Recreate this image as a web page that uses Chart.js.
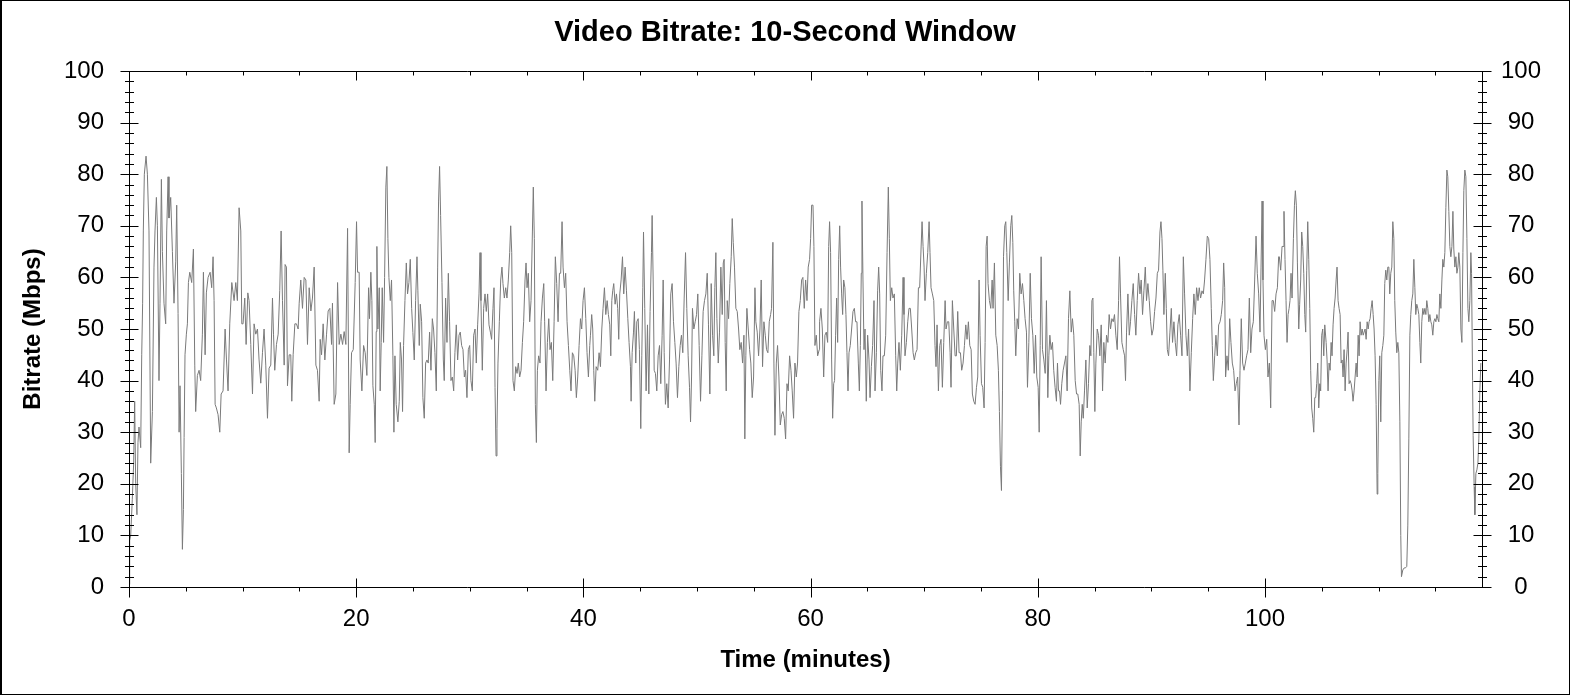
<!DOCTYPE html>
<html>
<head>
<meta charset="utf-8">
<title>Video Bitrate: 10-Second Window</title>
<style>
html, body { margin: 0; padding: 0; background: #fff; }
#wrap { width: 1570px; height: 695px; position: relative; }
</style>
<script src="https://cdn.jsdelivr.net/npm/chart.js@4.4.1/dist/chart.umd.min.js"></script>
</head>
<body>
<div id="wrap"><canvas id="bitrateChart" width="1570" height="695"></canvas></div>
<script>
// sample times (minutes)
const minutes = [
    0, 0.06, 0.15, 0.29, 0.41, 0.50, 0.59, 0.70, 0.79, 0.88,
    1.03, 1.12, 1.20, 1.26, 1.35, 1.50, 1.62, 1.76, 1.91, 2.06,
    2.20, 2.29, 2.41, 2.50, 2.64, 2.73, 2.85, 2.94, 3.08, 3.23,
    3.32, 3.44, 3.52, 3.67, 3.82, 3.96, 4.11, 4.20, 4.32, 4.41,
    4.49, 4.61, 4.70, 4.79, 4.85, 4.93, 5.05, 5.14, 5.23, 5.35,
    5.52, 5.67, 5.79, 5.87, 6.02, 6.17, 6.31, 6.46, 6.55, 6.70,
    6.81, 6.96, 7.14, 7.28, 7.40, 7.49, 7.58, 7.69, 7.84, 7.99,
    8.11, 8.28, 8.46, 8.58, 8.72, 8.87, 9.05, 9.25, 9.40, 9.54,
    9.69, 9.84, 9.93, 10.04, 10.19, 10.31, 10.46, 10.57, 10.72, 10.87,
    11.01, 11.16, 11.31, 11.45, 11.60, 11.75, 11.89, 12.04, 12.19, 12.33,
    12.48, 12.63, 12.72, 12.83, 12.98, 13.13, 13.27, 13.39, 13.51, 13.66,
    13.74, 13.86, 13.95, 14.10, 14.24, 14.33, 14.45, 14.60, 14.74, 14.89,
    14.98, 15.12, 15.27, 15.42, 15.57, 15.71, 15.86, 16.01, 16.15, 16.30,
    16.45, 16.59, 16.74, 16.83, 16.95, 17.09, 17.24, 17.39, 17.53, 17.68,
    17.83, 17.91, 18.06, 18.21, 18.36, 18.50, 18.65, 18.80, 18.94, 19.09,
    19.24, 19.38, 19.47, 19.59, 19.74, 19.91, 20.03, 20.12,
    20.26, 20.35, 20.50, 20.65, 20.79, 20.94, 21.09, 21.17, 21.29, 21.38,
    21.47, 21.59, 21.67, 21.76, 21.82, 21.91, 22.03, 22.11, 22.20, 22.29,
    22.41, 22.50, 22.61, 22.70, 22.79, 22.88, 23.00, 23.11, 23.23, 23.32,
    23.41, 23.52, 23.67, 23.79, 23.88, 23.99, 24.08, 24.17, 24.29, 24.41,
    24.52, 24.64, 24.76, 24.88, 24.99, 25.11, 25.23, 25.35, 25.43, 25.55,
    25.64, 25.76, 25.87, 25.99, 26.11, 26.23, 26.34, 26.46, 26.58, 26.70,
    26.81, 26.93, 27.05, 27.17, 27.25, 27.34, 27.43, 27.55, 27.67, 27.75,
    27.87, 27.99, 28.11, 28.22, 28.34, 28.46, 28.58, 28.69, 28.81, 28.93,
    29.05, 29.16, 29.28, 29.40, 29.52, 29.63, 29.75, 29.87, 29.99, 30.10,
    30.22, 30.34, 30.46, 30.57, 30.69, 30.81, 30.90, 30.98, 31.10, 31.22,
    31.34, 31.45, 31.57, 31.69, 31.81, 31.92, 32.04, 32.13, 32.22, 32.31,
    32.39, 32.48, 32.60, 32.72, 32.83, 32.92, 33.04, 33.16, 33.27, 33.39,
    33.51, 33.60, 33.69, 33.80, 33.92, 34.04, 34.16, 34.27, 34.39, 34.51,
    34.63, 34.74, 34.86, 34.95, 35.04, 35.15, 35.27, 35.39, 35.51, 35.59,
    35.68, 35.77, 35.86, 35.95, 36.06, 36.18, 36.27, 36.39, 36.51, 36.59,
    36.71, 36.83, 36.95, 37.06, 37.18, 37.30, 37.42, 37.53, 37.65, 37.77,
    37.89, 38.00, 38.12, 38.21, 38.33, 38.44, 38.56, 38.68, 38.80, 38.91,
    39.03, 39.15, 39.27, 39.38, 39.50, 39.62, 39.74, 39.85, 39.97, 40.09,
    40.21, 40.32, 40.44, 40.56,
    40.62, 40.73, 40.82, 40.91, 41.00, 41.12, 41.26, 41.38, 41.50, 41.62,
    41.73, 41.85, 41.97, 42.09, 42.20, 42.32, 42.41, 42.50, 42.58, 42.67,
    42.79, 42.91, 43.02, 43.11, 43.20, 43.32, 43.44, 43.55, 43.67, 43.79,
    43.91, 44.02, 44.14, 44.20, 44.29, 44.41, 44.49, 44.61, 44.70, 44.82,
    44.93, 45.05, 45.14, 45.23, 45.29, 45.40, 45.52, 45.64, 45.76, 45.87,
    45.99, 46.05, 46.14, 46.23, 46.34, 46.46, 46.58, 46.70, 46.81, 46.93,
    47.02, 47.11, 47.22, 47.34, 47.46, 47.58, 47.69, 47.81, 47.93, 48.05,
    48.16, 48.28, 48.40, 48.52, 48.63, 48.75, 48.87, 48.99, 49.10, 49.22,
    49.34, 49.43, 49.52, 49.60, 49.72, 49.84, 49.96, 50.07, 50.19, 50.31,
    50.43, 50.54, 50.66, 50.78, 50.90, 51.01, 51.13, 51.25, 51.37, 51.48,
    51.57, 51.66, 51.75, 51.87, 51.98, 52.10, 52.22, 52.31, 52.39, 52.48,
    52.57, 52.66, 52.78, 52.89, 53.01, 53.10, 53.19, 53.30, 53.42, 53.54,
    53.66, 53.77, 53.89, 54.01, 54.13, 54.21, 54.30, 54.39, 54.51, 54.63,
    54.74, 54.86, 54.98, 55.10, 55.18, 55.30, 55.42, 55.54, 55.65, 55.77,
    55.89, 56.01, 56.12, 56.24, 56.36, 56.48, 56.56, 56.68, 56.77, 56.86,
    56.98, 57.09, 57.21, 57.33, 57.45, 57.56, 57.68, 57.80, 57.92, 58.03,
    58.15, 58.27, 58.38, 58.50, 58.62, 58.74, 58.85, 58.97, 59.09, 59.21,
    59.32, 59.44, 59.56, 59.68, 59.79, 59.91, 60.00, 60.09, 60.21, 60.29,
    60.38, 60.50, 60.62, 60.76,
    60.79, 60.91, 61.03, 61.15, 61.26, 61.38, 61.50, 61.59, 61.67, 61.76,
    61.85, 61.94, 62.03, 62.11, 62.20, 62.29, 62.38, 62.47, 62.56, 62.64,
    62.73, 62.82, 62.91, 63.02, 63.11, 63.20, 63.29, 63.38, 63.49, 63.61,
    63.73, 63.85, 63.96, 64.08, 64.20, 64.29, 64.38, 64.46, 64.52, 64.61,
    64.70, 64.79, 64.90, 65.02, 65.14, 65.23, 65.35, 65.46, 65.58, 65.67,
    65.79, 65.90, 65.99, 66.08, 66.17, 66.28, 66.37, 66.49, 66.61, 66.73,
    66.84, 66.93, 67.02, 67.14, 67.25, 67.37, 67.49, 67.58, 67.67, 67.78,
    67.90, 68.02, 68.14, 68.22, 68.31, 68.43, 68.55, 68.66, 68.78, 68.90,
    69.02, 69.13, 69.25, 69.37, 69.49, 69.60, 69.72, 69.81, 69.90, 69.99,
    70.07, 70.19, 70.31, 70.43, 70.51, 70.60, 70.72, 70.84, 70.95, 71.04,
    71.13, 71.25, 71.37, 71.48, 71.60, 71.72, 71.84, 71.92, 72.04, 72.16,
    72.28, 72.36, 72.48, 72.60, 72.72, 72.83, 72.95, 73.07, 73.19, 73.30,
    73.42, 73.54, 73.66, 73.77, 73.89, 74.01, 74.13, 74.24, 74.36, 74.48,
    74.60, 74.71, 74.83, 74.92, 75.04, 75.15, 75.27, 75.36, 75.45, 75.54,
    75.62, 75.74, 75.86, 75.98, 76.06, 76.18, 76.30, 76.42, 76.53, 76.62,
    76.71, 76.80, 76.89, 76.98, 77.09, 77.18, 77.27, 77.39, 77.50, 77.62,
    77.71, 77.80, 77.88, 77.97, 78.06, 78.18, 78.30, 78.41, 78.53, 78.65,
    78.77, 78.88, 79.00, 79.09, 79.21, 79.33, 79.44, 79.56, 79.68, 79.80,
    79.91, 80.03, 80.12, 80.21, 80.29, 80.41, 80.53, 80.65, 80.76, 80.88,
    80.97, 81.06, 81.17, 81.29, 81.40, 81.52, 81.64, 81.73, 81.82, 81.91,
    82.00, 82.11, 82.23, 82.35, 82.47, 82.58, 82.70, 82.82, 82.94, 83.05,
    83.17, 83.29, 83.41, 83.52, 83.64, 83.73, 83.82, 83.91, 84.00, 84.11,
    84.23, 84.35, 84.46, 84.58, 84.67, 84.76, 84.85, 84.93, 85.02, 85.11,
    85.23, 85.34, 85.46, 85.58, 85.70, 85.81, 85.93, 86.05, 86.17, 86.28,
    86.40, 86.52, 86.64, 86.75, 86.87, 86.99, 87.11, 87.19, 87.28, 87.40,
    87.52, 87.64, 87.72, 87.81, 87.93, 88.05, 88.16, 88.28, 88.40, 88.52,
    88.63, 88.75, 88.87, 88.99, 89.10, 89.22, 89.34, 89.46, 89.57, 89.69,
    89.81, 89.93, 90.04, 90.16, 90.28, 90.40, 90.52, 90.63, 90.75, 90.84,
    90.93, 91.01, 91.10, 91.22, 91.31, 91.40, 91.51, 91.63, 91.75, 91.86,
    91.98, 92.10, 92.22, 92.33, 92.45, 92.57, 92.69, 92.81, 92.92, 93.04,
    93.16, 93.27, 93.39, 93.51, 93.63, 93.74, 93.86, 93.98, 94.10, 94.21,
    94.33, 94.45, 94.57, 94.68, 94.80, 94.92, 95.04, 95.15, 95.27, 95.36,
    95.45, 95.57, 95.68, 95.80, 95.92, 96.04, 96.15, 96.27, 96.36, 96.45,
    96.53, 96.65, 96.77, 96.89, 97.00, 97.12, 97.24, 97.36, 97.47, 97.59,
    97.71, 97.80, 97.91, 98.03, 98.15, 98.27, 98.38, 98.50, 98.62, 98.74,
    98.85, 98.97, 99.09, 99.21, 99.32, 99.44, 99.56, 99.65, 99.74, 99.82,
    99.91, 100.03, 100.15, 100.26, 100.38, 100.50, 100.62, 100.73, 100.85, 100.97,
    101.09, 101.20,
    101.26, 101.38, 101.50, 101.59, 101.67, 101.76, 101.85, 101.94, 102.03, 102.12,
    102.20, 102.29, 102.38, 102.50, 102.59, 102.67, 102.76, 102.85, 102.97, 103.05,
    103.14, 103.23, 103.32, 103.41, 103.50, 103.58, 103.67, 103.76, 103.85, 103.94,
    104.02, 104.11, 104.20, 104.29, 104.38, 104.46, 104.55, 104.64, 104.73, 104.82,
    104.90, 104.99, 105.08, 105.17, 105.26, 105.38, 105.46, 105.55, 105.64, 105.73,
    105.82, 105.90, 105.99, 106.08, 106.17, 106.26, 106.34, 106.43, 106.52, 106.61,
    106.70, 106.79, 106.87, 106.96, 107.05, 107.14, 107.23, 107.31, 107.40, 107.49,
    107.58, 107.67, 107.75, 107.84, 107.93, 108.02, 108.11, 108.20, 108.28, 108.37,
    108.46, 108.55, 108.64, 108.72, 108.81, 108.90, 108.99, 109.08, 109.16, 109.25,
    109.34, 109.43, 109.52, 109.60, 109.69, 109.78, 109.87, 109.93, 110.02, 110.10,
    110.19, 110.28, 110.37, 110.46, 110.54, 110.63, 110.72, 110.81, 110.90, 110.98,
    111.07, 111.16, 111.25, 111.34, 111.42, 111.51, 111.60, 111.69, 111.78, 111.87,
    111.95, 112.01, 112.13, 112.25, 112.36, 112.48, 112.57, 112.66, 112.75, 112.83,
    112.92, 113.01, 113.10, 113.19, 113.27, 113.36, 113.45, 113.54, 113.63, 113.71,
    113.80, 113.89, 113.98, 114.07, 114.16, 114.24, 114.33, 114.42, 114.51, 114.60,
    114.68, 114.77, 114.86, 114.95, 115.04, 115.13, 115.21, 115.30, 115.39, 115.48,
    115.57, 115.65, 115.74, 115.83, 115.92, 116.01, 116.09, 116.18, 116.27, 116.36,
    116.45, 116.54, 116.62, 116.71, 116.80, 116.89, 116.98, 117.06, 117.15, 117.24,
    117.33, 117.42, 117.50, 117.59, 117.68, 117.77, 117.86, 117.94, 118.03, 118.12,
    118.18, 118.27, 118.32, 118.41, 118.47, 118.56, 118.65, 118.74, 118.82, 118.91,
    119.00
];

// bitrate in Mbps, one value per entry of minutes
const bitrate = [
    0.5, 9, 10, 17, 24, 36, 20, 14, 28, 31,
    27, 45, 55, 69, 80, 83.5, 80, 69, 24, 34,
    62, 69, 75.5, 70, 40, 55, 79, 65, 55, 51,
    69, 79.5, 71.5, 75.5, 65, 55, 63, 74, 53, 30,
    39, 22, 7.3, 15, 29, 45, 49, 51, 59, 61,
    59, 65.5, 43, 34, 41, 42, 40, 49, 61, 45,
    57, 60, 61, 58, 64, 55.5, 35.4, 34.7, 33.4, 30,
    37.4, 38, 50, 44, 38, 51, 59, 55.5, 59, 55.5,
    73.5, 69, 51, 51, 56, 47, 57, 55.5, 47, 37.4,
    51, 49, 50, 44, 39.5, 45.4, 50, 43, 32.7, 42.4,
    43, 56, 49, 42, 47, 49, 57.5, 69, 55.5, 43,
    62.5, 62, 39, 45, 45, 36, 45, 51, 51, 50,
    55, 59.5, 54, 60, 59.5, 47, 58, 53.5, 56, 62,
    43, 42, 36, 48, 45, 51, 44, 49, 53.5, 54,
    47, 55, 35.4, 37.4, 59, 47, 49, 47, 49.5, 47,
    69.5, 26, 35.4, 45.4, 46, 59, 70.8, 61,
    61, 44, 38, 46.8, 45.4, 41, 58, 52, 61, 55.5,
    39, 35.4, 28, 49.5, 66, 50, 58, 38, 47.4, 58,
    47.4, 60, 77.5, 81.5, 67.5, 60, 55.5, 59.5, 44.8, 30,
    44.8, 35.4, 32, 36, 47.4, 44, 34, 46.8, 55.5, 62.8,
    56.8, 59, 63.5, 54, 49.3, 44, 55.5, 64, 57.4, 46.8,
    54.8, 51.4, 36.7, 32.7, 43.4, 44, 43.4, 49.4, 42, 52,
    50, 45.4, 38, 62, 74.8, 81.5, 72, 59, 44, 40,
    56, 47.4, 60.8, 51.4, 40, 40.7, 38, 45.4, 50.8, 44,
    48.8, 49.4, 46.8, 46, 40.7, 42, 36.7, 46, 46.8, 40,
    38, 48.8, 50, 43.4, 50.8, 56.8, 64.8, 55.5, 42, 54,
    56.8, 53.4, 56.8, 50.8, 49.4, 48, 54, 58, 38.7, 25.4,
    30.7, 43.4, 51.4, 59.5, 62, 58.8, 56, 58, 56, 59.5,
    64.8, 70, 64.8, 40, 38, 42.7, 41.4, 43.4, 40.7, 42,
    47.4, 51.4, 59.5, 62.8, 58, 60.8, 51.4, 55.5, 68.8, 77.5,
    67.5, 35.4, 28, 42, 44.8, 43.4, 51.4, 56, 58.8, 51.4,
    38, 47.4, 52, 46, 47.4, 40, 51.4, 64, 58.8, 51.4,
    60.8, 60.8, 70.8, 62, 58, 60.8, 51.4, 46.8, 42, 38,
    45.4, 44.8, 42, 36.7, 40.7, 46.8, 52, 50, 55.5, 58,
    52, 45.4, 40.7, 46.8,
    48.8, 52.8, 50, 42, 36, 42.7, 42, 45.4, 42.7, 50,
    54, 58, 52.8, 55.5, 52.8, 50.8, 44.8, 55.5, 57.4, 58.8,
    54.8, 56.8, 54, 48, 56.8, 59.5, 64, 56.8, 62, 57.4,
    52, 47.4, 42.7, 36, 45.4, 49.4, 53.4, 43.4, 51.4, 52,
    46, 30.7, 44.8, 58, 68.8, 54, 38, 50.8, 37.4, 53.4,
    64.8, 72, 59.5, 42, 41.4, 38, 44.8, 46.8, 39.4, 48.8,
    59.5, 45.4, 35.4, 39.4, 34.7, 44, 56.8, 58.8, 51.4, 47.4,
    43.4, 36.7, 42.7, 46.8, 48.8, 45.4, 56, 64.8, 54, 44.8,
    38.7, 32, 40.7, 54, 50, 51.4, 52.8, 56.8, 46.8, 36,
    44.8, 53.4, 55.5, 56.8, 60.8, 50.8, 37.4, 58.8, 48.8, 44.8,
    58, 64.8, 52, 43.4, 49.4, 62, 52.8, 62.8, 63.5, 47.4,
    38, 55.5, 52, 58.8, 64, 71.4, 66.8, 62, 54, 53.4,
    50, 46, 47.4, 43.4, 48.8, 28.7, 44.8, 54, 50, 46,
    43.4, 36.7, 40.7, 58, 51.4, 49.4, 44.8, 50, 59.5, 42.7,
    51.4, 48.8, 46, 45.4, 51.4, 52.8, 54, 66.8, 43.4, 29.4,
    43.4, 46.8, 40.7, 31.4, 33.4, 34, 32.7, 28.7, 39.4, 38,
    44.8, 42, 38, 32.7, 43.4, 40.7, 43.4, 53.4, 55.5, 59.5,
    60, 54, 59.5, 55.5, 62, 63.5, 67.5, 74, 74, 66,
    46.8, 48.8, 44.8, 46,
    51.4, 54, 50, 40.7, 48.8, 49.4, 47.4, 66, 70.8, 64.8,
    44, 32.7, 39.4, 40, 48.8, 56, 47.4, 63.5, 70, 62,
    56.8, 52.8, 59.5, 58, 52.8, 45.4, 38, 45.4, 46.8, 50,
    53.4, 54, 51.4, 51.4, 43.4, 38, 46.8, 60.8, 74.8, 59.5,
    46, 50, 36, 48.8, 44, 36.7, 42.7, 46.8, 55.5, 38,
    45.4, 57.4, 62, 56.8, 42, 38, 44.8, 44.8, 48.8, 64.8,
    77.5, 67.5, 55.5, 58, 56, 56.8, 44.8, 38, 43.4, 47.4,
    42, 48.8, 60, 52.8, 44.8, 47.4, 51.4, 54, 54, 50,
    45.4, 44, 45.4, 46, 58, 58, 65.5, 70.8, 66, 62,
    55.5, 60.8, 64.8, 70.8, 64.8, 58, 56.8, 55.5, 46.8, 42.7,
    50.8, 38, 46.8, 48, 38.7, 47.4, 55.5, 50, 51.4, 51.4,
    45.4, 38.7, 55.5, 50, 44.8, 44.8, 53.4, 45.4, 45.4, 42,
    43.4, 46.8, 50.8, 48, 51.4, 46.8, 46, 37.4, 36, 35.4,
    38.7, 40.7, 59.5, 48.8, 39.4, 38.7, 34.7, 47.4, 66, 68,
    58.8, 55.5, 54, 59.5, 54, 62.8, 48.8, 46.8, 42, 34,
    23.4, 18.7, 38, 64, 70, 70.8, 64.8, 55.5, 62.8, 70,
    72, 66.8, 57.4, 51.4, 44.8, 52, 50, 60.8, 56.8, 58.8,
    55.5, 52, 49.4, 38.7, 47.4, 60.8, 52, 48.8, 41.4, 48.8,
    40.7, 38.7, 30, 46.8, 64, 46, 44, 41.4, 55.5, 36.7,
    44.8, 48.8, 46, 47.4, 42, 38.7, 36, 43.4, 38, 38,
    35.4, 39.4, 42, 43.4, 44.8, 38, 52, 57.4, 49.4, 52,
    48.8, 40, 37.4, 37.4, 35.4, 25.4, 32, 35.4, 32.7, 38,
    44, 34.7, 39.4, 46.8, 44.8, 55.5, 56, 45.4, 34, 43.4,
    50, 48.8, 44.8, 50.8, 38, 47.4, 43.4, 48.8, 47.4, 52.8,
    50, 52, 51.4, 52.8, 48.8, 46, 55.5, 64, 56.8, 47.4,
    46, 44.8, 40, 49.4, 56.8, 48.8, 51.4, 55.5, 58.8, 52.8,
    48.8, 55.5, 60.8, 56.8, 59.5, 52.8, 57.4, 62, 55.5, 58.8,
    55.5, 51.4, 48.8, 50, 53.4, 56, 60.8, 61.4, 68.8, 70.8,
    67.5, 61.4, 52.8, 60.8, 54, 46, 44.8, 49.4, 54, 47.4,
    51.4, 47.4, 44.8, 50.8, 52.8, 48.8, 44.8, 64, 56.8, 48.8,
    44.8, 50, 38, 45.4, 52, 56.8, 52.8, 58, 55.5, 58,
    56, 57.4, 56.8, 59.5, 63.5, 68, 67.5, 63.5, 54, 46.8,
    40, 44.8, 48.8, 44.8, 50.8, 51.4, 52.8, 55.5, 62.8, 58,
    40.7, 44.8, 42, 52, 47.4, 43.4, 42, 38, 39.4, 40.7,
    31.4, 42, 52, 43.4, 42, 43.4, 44.8, 46, 56, 45.4,
    50, 51.4, 59.5, 68, 60.8, 56.8, 49.4, 62, 74.8, 59.5,
    48.8, 46, 48, 40.7, 43.4, 34.7, 55.5, 55.5, 53.4, 56.8,
    58, 64,
    64, 61.4, 66, 66, 72.8, 63.5, 55.5, 47.4, 52.8, 54,
    55.5, 60.8, 56, 67.5, 74, 76.8, 74, 62.8, 50, 54.8,
    59.5, 68.8, 66, 60.8, 52.8, 49.4, 61.4, 70.8, 63.5, 54,
    42, 34.7, 32.7, 30, 36.7, 36.7, 39.4, 43.4, 34.7, 39.4,
    38, 48.8, 50, 44.8, 50.8, 47.4, 44, 38, 43.4, 42,
    47.4, 44.8, 50.8, 54, 56, 59.5, 62, 55.5, 54, 52.8,
    43.4, 44, 40.7, 46, 38, 43.4, 46, 49.4, 39.4, 40,
    39.4, 38, 36, 38, 40.7, 43.4, 40.7, 48.8, 44.8, 51.4,
    48.8, 50, 48.8, 49.4, 50, 48, 51.4, 50, 51.4, 52,
    54, 55.5, 52.8, 50, 44.8, 35.4, 18, 22, 40, 44.8,
    32, 45.4, 46.8, 48.8, 58.8, 61.4, 59.5, 62, 62, 56.8,
    60.8, 62, 70.8, 67.5, 55.5, 49.4, 45.4, 47.4, 45.4, 32,
    10, 2, 3.3, 3.7, 3.7, 4, 12, 28.7, 48.8, 52.8,
    55.5, 56.8, 63.5, 58, 52.8, 54.8, 54, 52.8, 47.4, 43.4,
    51.4, 54, 52.8, 54, 52.8, 55.5, 54, 51.4, 52.8, 51.4,
    50.8, 48.8, 51.4, 52, 51.4, 52.8, 52, 51.4, 56.8, 54,
    59.5, 63.5, 62, 64.8, 73.5, 80.8, 79.5, 72.8, 66, 64,
    66, 72.8, 65.5, 62, 64, 60.8, 62, 64.8, 62, 50,
    47.4, 64.8, 76.8, 80.8, 79.5, 67.5, 54, 51.4, 55.5, 64.8,
    60.8, 40, 29.4, 19.4, 14, 22, 22.7, 24, 28.7, 38,
    43.4
];

const xMax = 119.1;
const xTickValues = [0, 20, 40, 60, 80, 100];
const yTickValues = [0, 10, 20, 30, 40, 50, 60, 70, 80, 90, 100];

const fontFamily = "'Liberation Sans', Arial, Helvetica, sans-serif";

// ticks on all four sides of the frame (minor + major), like the original plot
const frameTicks = {
    id: 'frameTicks',
    afterDraw(chart) {
        const ctx = chart.ctx;
        const area = chart.chartArea;
        const xs = chart.scales.x;
        const ys = chart.scales.y;
        const L = Math.round(area.left) + 0.5;
        const R = Math.round(area.right) + 0.5;
        const T = Math.round(area.top) + 0.5;
        const B = Math.round(area.bottom) + 0.5;

        ctx.save();
        ctx.strokeStyle = '#000';
        ctx.lineWidth = 1;
        ctx.beginPath();
        ctx.rect(L, T, R - L, B - T);

        for (let v = 0; v <= 100; v += 2) {
            const py = Math.round(ys.getPixelForValue(v)) + 0.5;
            const half = v % 10 === 0 ? 9 : 4.5;
            ctx.moveTo(L - half, py);
            ctx.lineTo(L + half, py);
            ctx.moveTo(R - half, py);
            ctx.lineTo(R + half, py);
        }

        for (let m = 5; m < xMax; m += 5) {
            const px = Math.round(xs.getPixelForValue(m)) + 0.5;
            const major = m % 20 === 0;
            ctx.moveTo(px, T);
            ctx.lineTo(px, T + (major ? 9 : 4));
            if (major) {
                ctx.moveTo(px, B - 9);
                ctx.lineTo(px, B + 10);
            } else {
                ctx.moveTo(px, B);
                ctx.lineTo(px, B + 4);
            }
        }
        ctx.moveTo(L, B);
        ctx.lineTo(L, B + 10);
        ctx.stroke();

        // outer picture border
        ctx.fillStyle = '#000';
        ctx.fillRect(0, 0, 2, chart.height);
        ctx.fillRect(0, 0, chart.width, 1);
        ctx.fillRect(chart.width - 1, 0, 1, chart.height);
        ctx.fillRect(0, chart.height - 1, chart.width, 1);
        ctx.restore();
    }
};

const ctx = document.getElementById('bitrateChart').getContext('2d');

new Chart(ctx, {
    type: 'line',
    data: {
        datasets: [{
            label: 'Bitrate',
            data: minutes.map((m, i) => ({ x: m, y: bitrate[i] })),
            borderColor: '#7a7a7a',
            borderWidth: 1,
            pointRadius: 0,
            tension: 0,
            fill: false
        }]
    },
    options: {
        responsive: false,
        animation: false,
        devicePixelRatio: 1,
        layout: { padding: 0 },
        plugins: {
            legend: { display: false },
            tooltip: { enabled: false },
            title: {
                display: true,
                text: 'Video Bitrate: 10-Second Window',
                color: '#000',
                font: { family: fontFamily, size: 29, weight: 'bold', lineHeight: '36px' },
                padding: { top: 15, bottom: 20 }
            }
        },
        scales: {
            x: {
                type: 'linear',
                min: 0,
                max: xMax,
                afterBuildTicks: scale => { scale.ticks = xTickValues.map(v => ({ value: v })); },
                afterFit: scale => { scale.height = 108; },
                ticks: {
                    color: '#000',
                    font: { family: fontFamily, size: 24, lineHeight: 1.25 },
                    padding: 17,
                    maxRotation: 0,
                    autoSkip: false
                },
                grid: { display: false, drawTicks: false },
                border: { display: false },
                title: {
                    display: true,
                    text: 'Time (minutes)',
                    color: '#000',
                    font: { family: fontFamily, size: 24, weight: 'bold', lineHeight: 1.25 },
                    padding: { top: 0, bottom: 20 }
                }
            },
            y: {
                position: 'left',
                min: 0,
                max: 100,
                afterBuildTicks: scale => { scale.ticks = yTickValues.map(v => ({ value: v })); },
                afterFit: scale => { scale.width = 129; },
                ticks: {
                    color: '#000',
                    font: { family: fontFamily, size: 24, lineHeight: 1.25 },
                    padding: 25
                },
                grid: { display: false, drawTicks: false },
                border: { display: false },
                title: {
                    display: true,
                    text: 'Bitrate (Mbps)',
                    color: '#000',
                    font: { family: fontFamily, size: 24, weight: 'bold', lineHeight: 1.25 },
                    padding: { top: 18, bottom: 0 }
                }
            },
            y2: {
                position: 'right',
                min: 0,
                max: 100,
                afterBuildTicks: scale => { scale.ticks = yTickValues.map(v => ({ value: v })); },
                afterFit: scale => { scale.width = 88; },
                ticks: {
                    color: '#000',
                    font: { family: fontFamily, size: 24, lineHeight: 1.25 },
                    padding: 19,
                    crossAlign: 'center'
                },
                grid: { display: false, drawTicks: false },
                border: { display: false }
            }
        }
    },
    plugins: [frameTicks]
});
</script>
</body>
</html>
